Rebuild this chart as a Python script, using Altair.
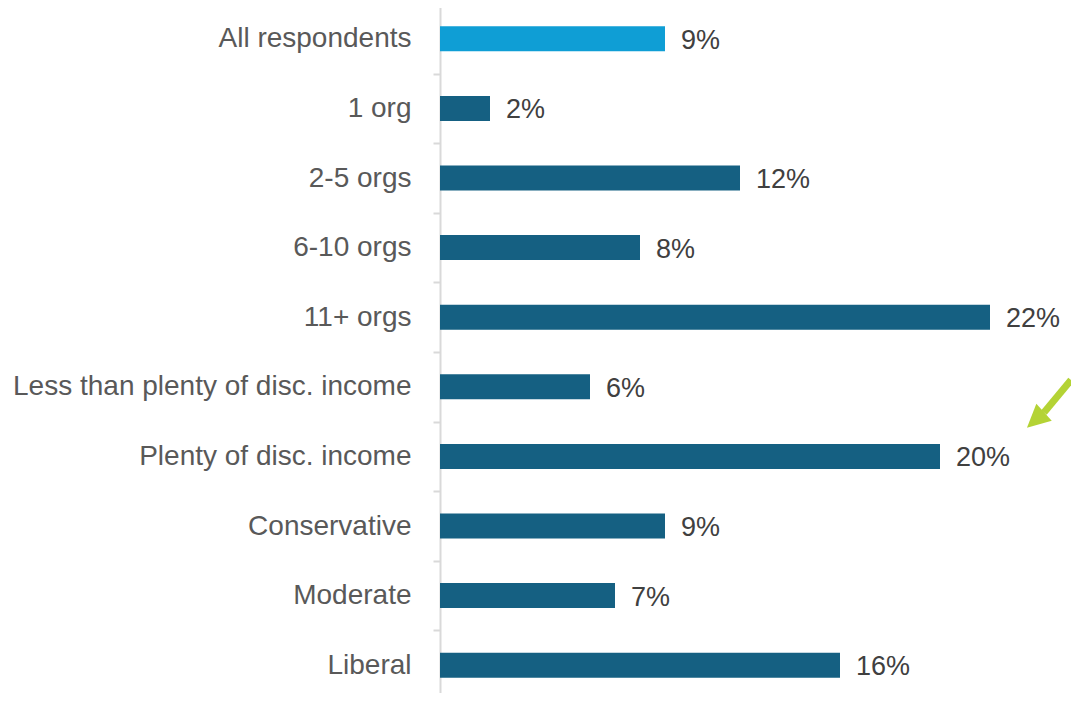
import altair as alt
import pandas as pd

categories = ["All respondents", "1 org", "2-5 orgs", "6-10 orgs", "11+ orgs",
              "Less than plenty of disc. income", "Plenty of disc. income",
              "Conservative", "Moderate", "Liberal"]
values = [9, 2, 12, 8, 22, 6, 20, 9, 7, 16]
labels = ["9%", "2%", "12%", "8%", "22%", "6%", "20%", "9%", "7%", "16%"]
groups = ["all"] + ["sub"] * 9

df = pd.DataFrame({"cat": categories, "val": values, "lab": labels, "grp": groups})

# annotation arrow (x in data units of the value axis)
arrow_x = [25.24, 24.16]
arrow_head_x = [23.82]

FONT = "Liberation Sans"

y_enc = alt.Y("cat:N", sort=categories, title=None,
              scale=alt.Scale(paddingInner=0, paddingOuter=0),
              axis=alt.Axis(domainColor="#d9d9d9", domainWidth=2, tickColor="#d9d9d9",
                            tickWidth=2, tickSize=7, tickBand="extent",
                            labelFont=FONT, labelFontSize=28, labelColor="#595959",
                            labelPadding=22, labelLimit=500))
x_scale = alt.Scale(domain=[0, 25.24], nice=False)
x_enc = alt.X("val:Q", scale=x_scale, axis=None)

bars = alt.Chart(df).mark_bar(size=25).encode(
    y=y_enc, x=x_enc,
    color=alt.Color("grp:N", scale=alt.Scale(domain=["all", "sub"], range=["#0F9ED5", "#156082"]), legend=None),
)
text = alt.Chart(df).mark_text(align="left", baseline="middle", dx=16, dy=2,
                               font=FONT, fontSize=27, color="#404040").encode(
    y=alt.Y("cat:N", sort=categories), x=alt.X("val:Q", scale=x_scale, axis=None), text="lab:N")

arr = pd.DataFrame({"x": [arrow_x[0]], "x2": [arrow_x[1]]})
shaft = alt.Chart(arr).mark_rule(color="#B4D335", strokeWidth=7, clip=False).encode(
    x=alt.X("x:Q", scale=x_scale, axis=None), x2="x2:Q", y=alt.value(376), y2=alt.value(408.5))
head = alt.Chart(pd.DataFrame({"x": arrow_head_x})).mark_point(
    shape="M0,-1L1,1L-1,1Z", size=529, filled=True, opacity=1, strokeWidth=0,
    color="#B4D335", angle=228, clip=False).encode(
    x=alt.X("x:Q", scale=x_scale, axis=None), y=alt.value(416))

chart = alt.layer(bars, text, shaft, head).properties(
    width=631, height=696,
    autosize=alt.AutoSizeParams(type="none"),
    padding={"left": 432, "top": -4, "right": 0, "bottom": -7},
).configure_view(stroke=None).configure(background="white")

chart.save("out.html", embed_options={"renderer": "svg", "actions": False})
